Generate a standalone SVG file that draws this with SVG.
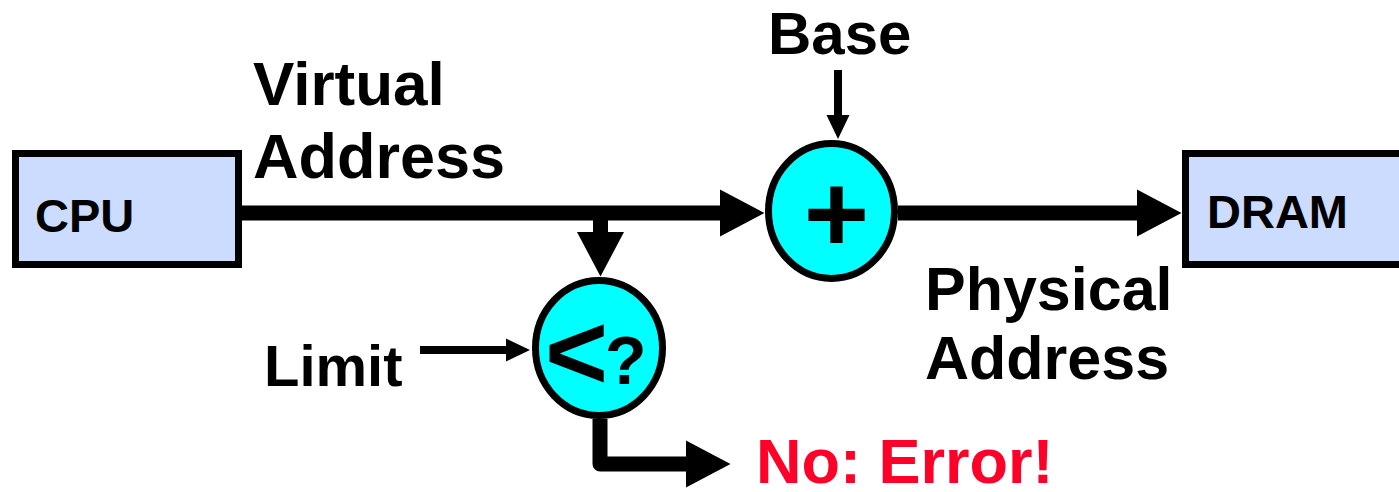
<svg xmlns="http://www.w3.org/2000/svg" width="1399" height="492" viewBox="0 0 1399 492">
  <style>
    .box { fill: #ccdcff; stroke: #000; stroke-width: 7; }
    .op { fill: #00ffff; stroke: #000; stroke-width: 7; }
    .lbl { font-family: "Liberation Sans", Arial, sans-serif; font-weight: bold; fill: #000; }
    .thick { fill: none; stroke: #000; stroke-width: 15; }
    .thin { fill: none; stroke: #000; stroke-width: 8; }
    .err { fill: #ff0028; }
  </style>
  <defs>
    <marker id="headBig" markerUnits="userSpaceOnUse" viewBox="0 -25 50 50" markerWidth="50" markerHeight="50" refX="1" refY="0" orient="auto">
      <path d="M0,-23.5 L44.5,0 L0,23.5 Z" fill="#000"/>
    </marker>
    <marker id="headSmall" markerUnits="userSpaceOnUse" viewBox="0 -13 26 26" markerWidth="26" markerHeight="26" refX="1" refY="0" orient="auto">
      <path d="M0,-11.5 L24,0 L0,11.5 Z" fill="#000"/>
    </marker>
  </defs>

  <!-- connectors -->
  <g id="connectors">
    <path class="thick" d="M242,213 H721" marker-end="url(#headBig)"/>
    <path class="thick" d="M898,213 H1138" marker-end="url(#headBig)"/>
    <path class="thick" d="M600.5,206 V233" marker-end="url(#headBig)"/>
    <path class="thin" d="M838,70 V116" marker-end="url(#headSmall)"/>
    <path class="thin" d="M420,350 H507" stroke-width="7" marker-end="url(#headSmall)"/>
    <path class="thick" d="M600,419 V464 H687" stroke-linejoin="round" marker-end="url(#headBig)"/>
  </g>

  <!-- processor -->
  <g id="cpu">
    <rect class="box" x="15.5" y="153.5" width="223" height="111"/>
    <text class="lbl" x="35" y="232" font-size="47">CPU</text>
  </g>

  <!-- memory -->
  <g id="dram">
    <rect class="box" x="1185.5" y="153.5" width="230" height="111"/>
    <text class="lbl" x="1207" y="228" font-size="47">DRAM</text>
  </g>

  <!-- adder -->
  <g id="adder">
    <ellipse class="op" cx="831.5" cy="211" rx="63" ry="67.5"/>
    <text class="lbl" x="836.5" y="252" font-size="112" text-anchor="middle">+</text>
  </g>

  <!-- bounds check -->
  <g id="compare">
    <ellipse class="op" cx="599" cy="348" rx="63.5" ry="67.5"/>
    <text class="lbl" x="545" y="389"><tspan font-size="108">&lt;</tspan><tspan font-size="68" dx="-3" dy="-5">?</tspan></text>
  </g>

  <!-- labels -->
  <g id="label-virtual">
    <text class="lbl" x="253" y="105" font-size="62">Virtual</text>
    <text class="lbl" x="253" y="178" font-size="63">Address</text>
  </g>
  <g id="label-base">
    <text class="lbl" x="768" y="54" font-size="60">Base</text>
  </g>
  <g id="label-physical">
    <text class="lbl" x="925" y="310" font-size="61">Physical</text>
    <text class="lbl" x="925" y="379" font-size="61">Address</text>
  </g>
  <g id="label-limit">
    <text class="lbl" x="264" y="386" font-size="58">Limit</text>
  </g>
  <g id="label-error">
    <text class="lbl err" x="756" y="483" font-size="63">No: Error!</text>
  </g>
</svg>
